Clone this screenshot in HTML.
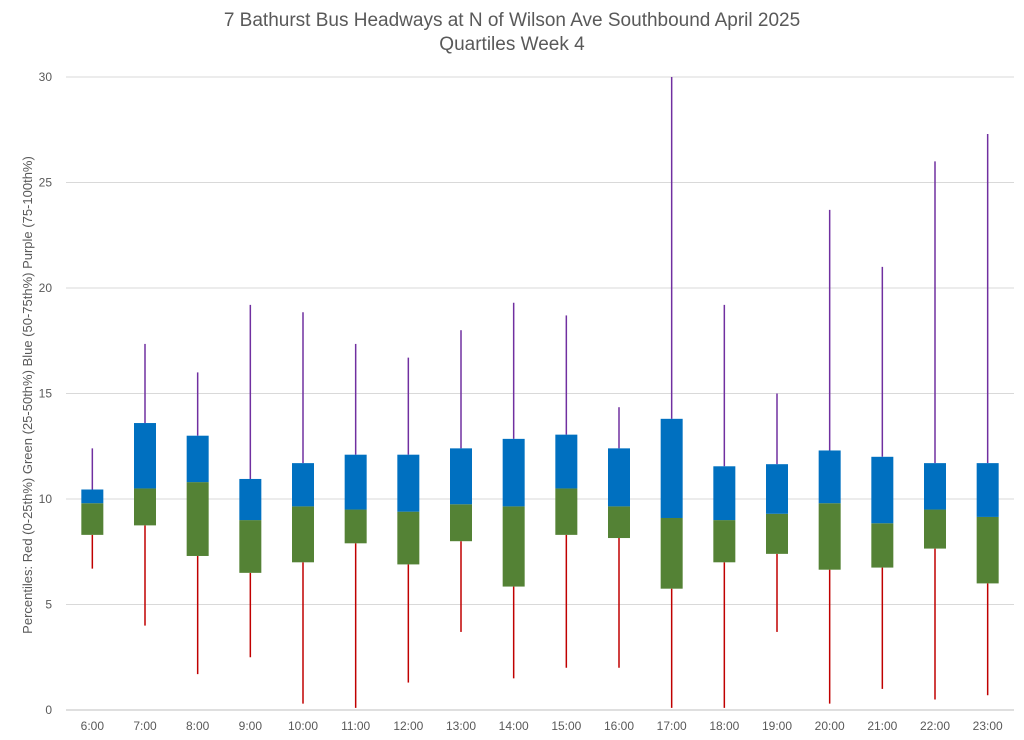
<!DOCTYPE html>
<html><head><meta charset="utf-8"><style>
body{margin:0;background:#fff;}
svg{display:block;font-family:"Liberation Sans",sans-serif;}
</style></head><body>
<svg id="chart" width="1024" height="740">
<text x="512" y="26" text-anchor="middle" font-size="19" fill="#595959">7 Bathurst Bus Headways at N of Wilson Ave Southbound April 2025</text>
<text x="512" y="50" text-anchor="middle" font-size="19" fill="#595959">Quartiles Week 4</text>
<text transform="translate(32,395) rotate(-90)" text-anchor="middle" font-size="13" fill="#595959">Percentiles:  Red (0-25th%)  Green (25-50th%)  Blue (50-75th%)  Purple (75-100th%)</text>
<g id="grid"></g><g id="marks"></g><g id="labels"></g>
</svg>
<script>
const categories=["6:00","7:00","8:00","9:00","10:00","11:00","12:00","13:00","14:00","15:00","16:00","17:00","18:00","19:00","20:00","21:00","22:00","23:00"];
const minVals=[6.7,4.0,1.7,2.5,0.3,0.1,1.3,3.7,1.5,2.0,2.0,0.1,0.1,3.7,0.3,1.0,0.5,0.7];
const q1Vals=[8.3,8.75,7.3,6.5,7.0,7.9,6.9,8.0,5.85,8.3,8.15,5.75,7.0,7.4,6.65,6.75,7.65,6.0];
const medVals=[9.8,10.5,10.8,9.0,9.65,9.5,9.4,9.75,9.65,10.5,9.65,9.1,9.0,9.3,9.8,8.85,9.5,9.15];
const q3Vals=[10.45,13.6,13.0,10.95,11.7,12.1,12.1,12.4,12.85,13.05,12.4,13.8,11.55,11.65,12.3,12.0,11.7,11.7];
const maxVals=[12.4,17.35,16.0,19.2,18.85,17.35,16.7,18.0,19.3,18.7,14.35,30.0,19.2,15.0,23.7,21.0,26.0,27.3];
const yTicks=[0,5,10,15,20,25,30];
const NS="http://www.w3.org/2000/svg";
const L=66,R=1014,T=77,B=710,ymax=30;
const y=v=>B-(v/ymax)*(B-T);
const step=(R-L)/categories.length;
const x=i=>L+step*(i+0.5);
function mk(tag,at,parent){const e=document.createElementNS(NS,tag);for(const k in at)e.setAttribute(k,at[k]);document.getElementById(parent).appendChild(e);return e;}
yTicks.forEach(t=>{
  const g=mk('line',{x1:L,x2:R,y1:y(t),y2:y(t),stroke:t===0?'#bfbfbf':'#d9d9d9','stroke-width':1},'grid');
  
  
  const tx=mk('text',{x:52,y:y(t)+4,'text-anchor':'end','font-size':12,fill:'#595959'},'labels');
  tx.textContent=t;
  
  
});
const bw=22;
categories.forEach((c,i)=>{
  const cx=x(i);
  const w1=mk('line',{x1:cx,x2:cx,y1:y(minVals[i]),y2:y(q1Vals[i]),stroke:'#C00000','stroke-width':1.5},'marks');
  
  
  const w2=mk('line',{x1:cx,x2:cx,y1:y(q3Vals[i]),y2:y(maxVals[i]),stroke:'#7030A0','stroke-width':1.5},'marks');
  
  
  const b1=mk('rect',{x:cx-bw/2,y:y(medVals[i]),width:bw,height:y(q1Vals[i])-y(medVals[i]),fill:'#548235'},'marks');
  
  
  const b2=mk('rect',{x:cx-bw/2,y:y(q3Vals[i]),width:bw,height:y(medVals[i])-y(q3Vals[i]),fill:'#0070C0'},'marks');
  
  
  const t=mk('text',{x:cx,y:B+20,'text-anchor':'middle','font-size':12,fill:'#595959'},'labels');
  t.textContent=c;
  
  
});
</script>
</body></html>
